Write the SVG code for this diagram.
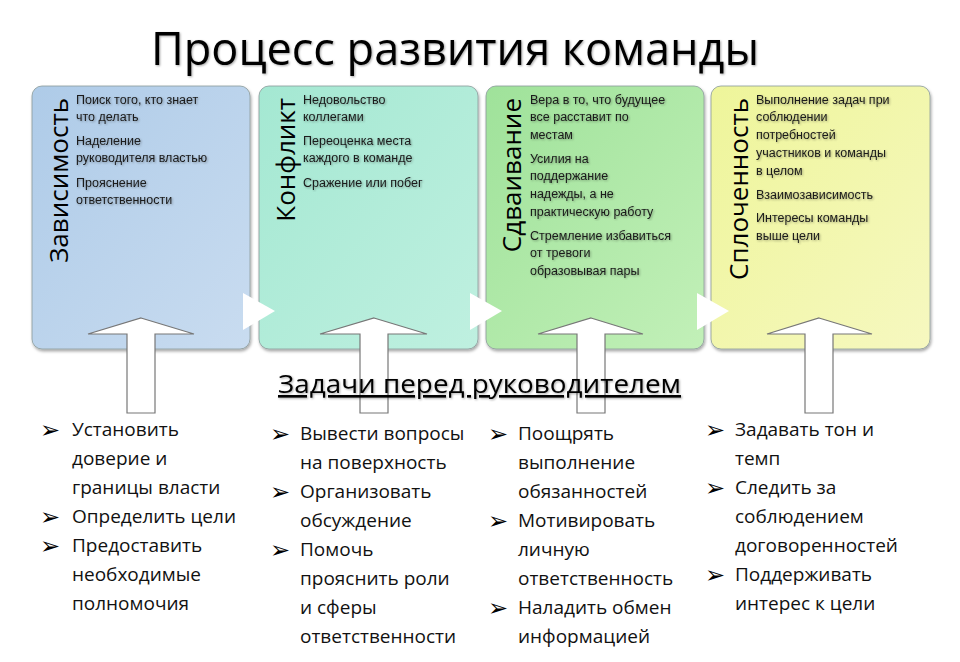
<svg xmlns="http://www.w3.org/2000/svg" width="960" height="662" viewBox="0 0 960 662">
<defs>
<linearGradient id="g1" x1="0" y1="0" x2="1" y2="1"><stop offset="0" stop-color="#aecbe8"/><stop offset="1" stop-color="#c9dcf0"/></linearGradient>
<linearGradient id="g2" x1="0" y1="0" x2="1" y2="1"><stop offset="0" stop-color="#a4e8d2"/><stop offset="1" stop-color="#bff0e0"/></linearGradient>
<linearGradient id="g3" x1="0" y1="0" x2="1" y2="1"><stop offset="0" stop-color="#9fe29a"/><stop offset="1" stop-color="#c2f0b8"/></linearGradient>
<linearGradient id="g4" x1="0" y1="0" x2="1" y2="1"><stop offset="0" stop-color="#eef59a"/><stop offset="1" stop-color="#f6f8c0"/></linearGradient>
<filter id="sh" x="-5%" y="-5%" width="110%" height="115%"><feDropShadow dx="1" dy="2" stdDeviation="1.5" flood-color="#000" flood-opacity="0.35"/></filter>
<filter id="ts"><feDropShadow dx="1" dy="1" stdDeviation="0.8" flood-color="#000" flood-opacity="0.35"/></filter>
</defs>
<style>
.box{stroke:#8a9a9a;stroke-width:0.8;filter:url(#sh)}
.vt{font-family:"Open Sans","Liberation Sans",sans-serif;font-size:26px;fill:#000;text-anchor:end}
.st{font-family:"Liberation Sans",sans-serif;font-size:12.5px;font-weight:500;fill:#1a1a1a;filter:url(#ts)}
.bt{font-family:"Open Sans","Liberation Sans",sans-serif;font-size:19px;fill:#111}
.bl{font-family:"DejaVu Sans",sans-serif;font-size:24px;fill:#000}
.up{fill:#fff;stroke:#777;stroke-width:1.2}
.chev{fill:#fff}
</style>
<rect width="960" height="662" fill="#fff"/>
<text x="455" y="65" text-anchor="middle" font-family="Open Sans, Liberation Sans, sans-serif" font-size="45" fill="#000" filter="url(#ts)">Процесс развития команды</text>

<g id="n1">
<rect class="box" x="32" y="86" width="218" height="263" rx="10" fill="url(#g1)"/>
<text class="vt" transform="translate(68,98) rotate(-90)">Зависимость</text>
<text class="st" x="76" y="104">Поиск  того, кто знает</text>
<text class="st" x="76" y="121">что делать</text>
<text class="st" x="76" y="145">Наделение</text>
<text class="st" x="76" y="162">руководителя властью</text>
<text class="st" x="76" y="187">Прояснение</text>
<text class="st" x="76" y="204">ответственности</text>
</g>
<g id="n2">
<rect class="box" x="259" y="86" width="219" height="263" rx="10" fill="url(#g2)"/>
<text class="vt" transform="translate(295,98) rotate(-90)">Конфликт</text>
<text class="st" x="303" y="104">Недовольство</text>
<text class="st" x="303" y="121">коллегами</text>
<text class="st" x="303" y="145">Переоценка места</text>
<text class="st" x="303" y="162">каждого в команде</text>
<text class="st" x="303" y="187">Сражение или побег</text>
</g>
<g id="n3">
<rect class="box" x="486" y="86" width="218" height="263" rx="10" fill="url(#g3)"/>
<text class="vt" transform="translate(521,98) rotate(-90)">Сдваивание</text>
<text class="st" x="530" y="104">Вера в то, что будущее</text>
<text class="st" x="530" y="121">все расставит по</text>
<text class="st" x="530" y="139">местам</text>
<text class="st" x="530" y="163">Усилия на</text>
<text class="st" x="530" y="180">поддержание</text>
<text class="st" x="530" y="198">надежды, а не</text>
<text class="st" x="530" y="216">практическую работу</text>
<text class="st" x="530" y="240">Стремление избавиться</text>
<text class="st" x="530" y="257">от тревоги</text>
<text class="st" x="530" y="275">образовывая пары</text>
</g>
<g id="n4">
<rect class="box" x="711" y="86" width="219" height="263" rx="10" fill="url(#g4)"/>
<text class="vt" transform="translate(748,98) rotate(-90)">Сплоченность</text>
<text class="st" x="756" y="104">Выполнение задач при</text>
<text class="st" x="756" y="121">соблюдении</text>
<text class="st" x="756" y="139">потребностей</text>
<text class="st" x="756" y="157">участников и команды</text>
<text class="st" x="756" y="175">в целом</text>
<text class="st" x="756" y="199">Взаимозависимость</text>
<text class="st" x="756" y="222">Интересы команды</text>
<text class="st" x="756" y="240">выше цели</text>
</g>

<g id="connectors">
<polygon class="chev" points="243,293 275,311 243,330"/>
<polygon class="chev" points="470,293 502,311 470,330"/>
<polygon class="chev" points="697,293 729,311 697,330"/>
<polygon class="up" points="141,318 194,334 155,334 155,413 127,413 127,334 88,334"/>
<polygon class="up" points="374,318 427,334 388,334 388,413 360,413 360,334 320,334"/>
<polygon class="up" points="591,318 643,334 605,334 605,413 577,413 577,334 538,334"/>
<polygon class="up" points="819,318 872,334 833,334 833,413 805,413 805,334 767,334"/>
</g>

<g id="heading">
<text x="278" y="393" font-family="Open Sans, Liberation Sans, sans-serif" font-size="26" fill="#000" text-decoration="underline" filter="url(#ts)" textLength="403" lengthAdjust="spacingAndGlyphs">Задачи перед руководителем</text>
</g>

<g id="t1">
<text class="bl" x="40" y="438">➢</text><text class="bt" x="72" y="436">Установить</text>
<text class="bt" x="72" y="465">доверие и</text>
<text class="bt" x="72" y="494">границы власти</text>
<text class="bl" x="40" y="525">➢</text><text class="bt" x="72" y="523">Определить цели</text>
<text class="bl" x="40" y="554">➢</text><text class="bt" x="72" y="552">Предоставить</text>
<text class="bt" x="72" y="581">необходимые</text>
<text class="bt" x="72" y="610">полномочия</text>
</g>
<g id="t2">
<text class="bl" x="270" y="442">➢</text><text class="bt" x="300" y="440">Вывести вопросы</text>
<text class="bt" x="300" y="469">на поверхность</text>
<text class="bl" x="270" y="500">➢</text><text class="bt" x="300" y="498">Организовать</text>
<text class="bt" x="300" y="527">обсуждение</text>
<text class="bl" x="270" y="558">➢</text><text class="bt" x="300" y="556">Помочь</text>
<text class="bt" x="300" y="585">прояснить роли</text>
<text class="bt" x="300" y="614">и сферы</text>
<text class="bt" x="300" y="643">ответственности</text>
</g>
<g id="t3">
<text class="bl" x="488" y="442">➢</text><text class="bt" x="518" y="440">Поощрять</text>
<text class="bt" x="518" y="469">выполнение</text>
<text class="bt" x="518" y="498">обязанностей</text>
<text class="bl" x="488" y="529">➢</text><text class="bt" x="518" y="527">Мотивировать</text>
<text class="bt" x="518" y="556">личную</text>
<text class="bt" x="518" y="585">ответственность</text>
<text class="bl" x="488" y="616">➢</text><text class="bt" x="518" y="614">Наладить обмен</text>
<text class="bt" x="518" y="643">информацией</text>
</g>
<g id="t4">
<text class="bl" x="705" y="438">➢</text><text class="bt" x="735" y="436">Задавать тон и</text>
<text class="bt" x="735" y="465">темп</text>
<text class="bl" x="705" y="496">➢</text><text class="bt" x="735" y="494">Следить за</text>
<text class="bt" x="735" y="523">соблюдением</text>
<text class="bt" x="735" y="552">договоренностей</text>
<text class="bl" x="705" y="583">➢</text><text class="bt" x="735" y="581">Поддерживать</text>
<text class="bt" x="735" y="610">интерес к цели</text>
</g>
</svg>
